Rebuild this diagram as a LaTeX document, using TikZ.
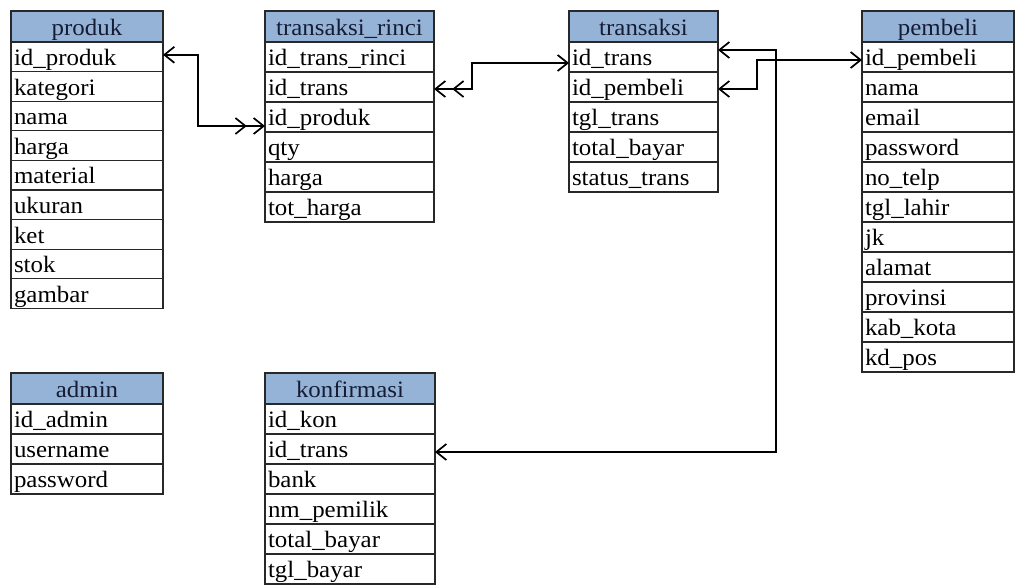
\documentclass[tikz,border=0pt]{standalone}
\usepackage{fontspec}
\setmainfont{Liberation Serif}[FakeStretch=1.06]
\usetikzlibrary{arrows.meta,calc}

\definecolor{hdrblue}{RGB}{149,179,215}
\definecolor{hdrtext}{RGB}{22,28,52}
\definecolor{gridline}{RGB}{40,40,40}

\tikzset{
  cell/.style={draw=gridline, line width=1.2pt, inner xsep=3pt, inner ysep=0pt,
    outer sep=0pt, text height=17.5pt, text depth=0pt, anchor=north west,
    font=\fontsize{23.5}{25}\selectfont},
  hdr/.style={cell, fill=hdrblue, text=hdrtext, align=center, minimum height=31pt},
  fld/.style={cell, fill=white, align=left},
  lnk/.style={line width=1.7pt, draw=black},
  erd/.tip={Straight Barb[length=10pt,width=16pt]},
  erdd/.tip={Straight Barb[length=10pt,width=16pt,sep=6pt] Straight Barb[length=10pt,width=16pt]}
}

% table: name, left x, top y, width, row height, title, list of fields
\newcommand\erdtable[7]{%
  \pgfmathsetmacro\erdtw{#4-6}%
  \node[hdr, minimum width=#4pt, text width=\erdtw pt] (#1) at (#2,#3) {#6};
  \foreach \fname [count=\i] in {#7} {
    \node[fld, minimum width=#4pt, text width=\erdtw pt, minimum height=#5pt]
      (#1-\i) at ($(#1.south west)+(0,{(\i-1)*#5})$) {\fname};
  }
}

\begin{document}
\begin{tikzpicture}[x=1pt,y=-1pt]
\useasboundingbox (0,0) rectangle (1015,584);
\clip (0,0) rectangle (1015,584);
\fill[white] (0,0) rectangle (1015,584);

\erdtable{produk}{11}{11}{152}{29.6}{produk}
  {id\_produk,kategori,nama,harga,material,ukuran,ket,stok,gambar}
\erdtable{rinci}{265}{11}{169}{30}{transaksi\_rinci}
  {id\_trans\_rinci,id\_trans,id\_produk,qty,harga,tot\_harga}
\erdtable{transaksi}{569}{11}{149}{30}{transaksi}
  {id\_trans,id\_pembeli,tgl\_trans,total\_bayar,status\_trans}
\erdtable{pembeli}{862}{11}{152}{30}{pembeli}
  {id\_pembeli,nama,email,password,no\_telp,tgl\_lahir,jk,alamat,provinsi,kab\_kota,kd\_pos}
\erdtable{admin}{11}{373}{152}{30}{admin}
  {id\_admin,username,password}
\erdtable{konf}{265}{373}{170}{30}{konfirmasi}
  {id\_kon,id\_trans,bank,nm\_pemilik,total\_bayar,tgl\_bayar}

% relations
\draw[lnk, erd-erdd] ($(produk-1.east)+(0,-2)$) -- ++(35,0) |- ($(rinci-3.west)+(0,9)$);
\draw[lnk, erdd-erd] ($(rinci-2.east)+(0,2)$) -- ++(38,0) |- ($(transaksi-1.west)+(0,6)$);
\draw[lnk, erd-erd] ($(transaksi-1.east)+(0,-7)$) -- ++(58,0) |- ($(konf-2.east)+(0,3)$);
\draw[lnk, erd-erd] ($(transaksi-2.east)+(0,2)$) -- ++(39,0) |- ($(pembeli-1.west)+(0,3)$);
\end{tikzpicture}
\end{document}
